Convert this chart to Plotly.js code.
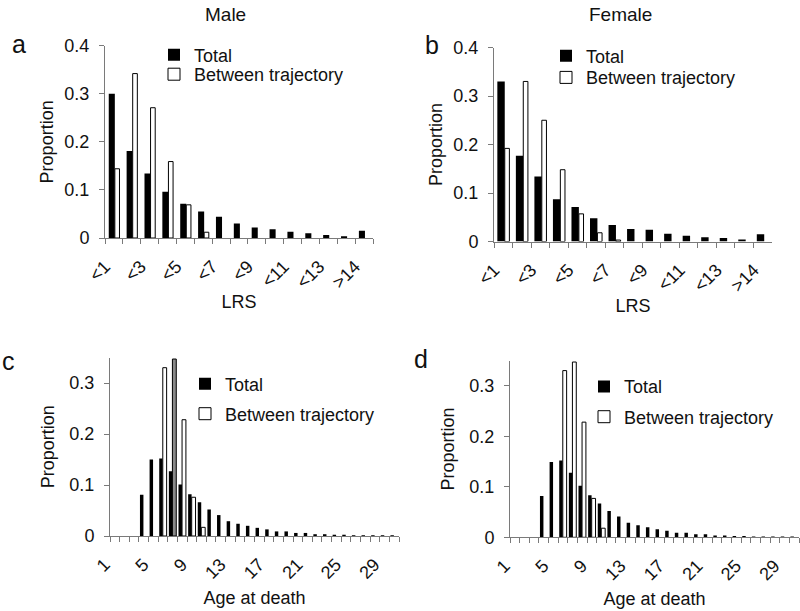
<!DOCTYPE html>
<html><head><meta charset="utf-8">
<script src="https://cdn.plot.ly/plotly-3.0.1.min.js"></script>
<style>html,body{margin:0;padding:0;background:#fff}#chart{width:800px;height:611px}</style>
</head><body><div id="chart"></div>
<script>
// ---------- data ----------
const lrsCategories = ['<1','<2','<3','<4','<5','<6','<7','<8','<9','<10','<11','<12','<13','<14','>14'];
const maleLrsTotal   = [0.300,0.181,0.134,0.096,0.071,0.055,0.044,0.030,0.022,0.018,0.013,0.010,0.006,0.0035,0.015];
const maleLrsBetween = [0.144,0.342,0.271,0.159,0.069,0.012,0,0,0,0,0,0,0,0,0];
const femaleLrsTotal   = [0.330,0.177,0.134,0.087,0.071,0.048,0.034,0.026,0.024,0.016,0.012,0.009,0.007,0.004,0.015];
const femaleLrsBetween = [0.192,0.330,0.250,0.148,0.057,0.018,0.003,0,0,0,0,0,0,0,0];

const ageCategories = ['1','2','3','4','5','6','7','8','9','10','11','12','13','14','15','16','17','18','19','20','21','22','23','24','25','26','27','28','29','30'];
const maleAgeTotal   = [0,0,0,0.081,0.150,0.152,0.127,0.101,0.082,0.066,0.052,0.041,0.029,0.024,0.020,0.016,0.013,0.009,0.009,0.006,0.006,0.0035,0.0035,0.0025,0.0025,0.0015,0.0015,0.0015,0.0015,0.0015];
const maleAgeBetween = [0,0,0,0,0,0.330,0.347,0.228,0.076,0.017,0,0,0,0,0,0,0,0,0,0,0,0,0,0,0,0,0,0,0,0];
const femaleAgeTotal   = [0,0,0,0.082,0.149,0.152,0.128,0.102,0.083,0.067,0.052,0.041,0.029,0.024,0.020,0.016,0.013,0.009,0.009,0.006,0.006,0.0035,0.0035,0.0025,0.0025,0.0015,0.0015,0.0015,0.0015,0.0015];
const femaleAgeBetween = [0,0,0,0,0,0.330,0.347,0.228,0.077,0.018,0,0,0,0,0,0,0,0,0,0,0,0,0,0,0,0,0,0,0,0];

const seriesNames = ['Total', 'Between trajectory'];
const panelLetters = ['a','b','c','d'];
const columnTitles = ['Male','Female'];
const lrsTitle = 'LRS';
const ageTitle = 'Age at death';
const yTitle = 'Proportion';

// ---------- layout helpers ----------
const W = 800, H = 611;
const px = v => v / W;
const py = v => 1 - v / H;
const FONT = 'Liberation Sans, Arial, Helvetica, sans-serif';
const AXC = '#7a7a7a';
const TXT = '#111';

const lrsTickText = lrsCategories.map((c, i) => i % 2 === 0 ? c : '');
const ageTickText = ageCategories.map((c, i) => i % 4 === 0 ? c : '');
// zero-height bars are not drawn (no outline stub on the axis)
const nz = arr => arr.map(v => v === 0 ? null : v);

function totalTrace(x, y, xa, ya, lg, off, w) {
  return {type:'bar', x, y:nz(y), xaxis:xa, yaxis:ya, name:seriesNames[0], legend:lg,
    offset:off, width:w, marker:{color:'#000', line:{width:0}}, hoverinfo:'x+y'};
}
function betweenTrace(x, y, xa, ya, lg, off, w, fill) {
  return {type:'bar', x, y:nz(y), xaxis:xa, yaxis:ya, name:seriesNames[1], legend:lg,
    offset:off, width:w, marker:{color:fill || '#fff', line:{color:'#000', width:1}}, hoverinfo:'x+y'};
}
const cBetweenFill = ageCategories.map(a => a === '7' ? '#8a8a8a' : '#fff');

const data = [
  totalTrace(lrsCategories, maleLrsTotal, 'x', 'y', 'legend', -0.29, 0.34),
  betweenTrace(lrsCategories, maleLrsBetween, 'x', 'y', 'legend2', 0.05, 0.26),
  totalTrace(lrsCategories, femaleLrsTotal, 'x2', 'y2', 'legend3', -0.32, 0.40),
  betweenTrace(lrsCategories, femaleLrsBetween, 'x2', 'y2', 'legend4', 0.08, 0.25),
  totalTrace(ageCategories, maleAgeTotal, 'x3', 'y3', 'legend5', -0.39, 0.36),
  betweenTrace(ageCategories, maleAgeBetween, 'x3', 'y3', 'legend6', -0.02, 0.40, cBetweenFill),
  totalTrace(ageCategories, femaleAgeTotal, 'x4', 'y4', 'legend7', -0.39, 0.36),
  betweenTrace(ageCategories, femaleAgeBetween, 'x4', 'y4', 'legend8', -0.02, 0.40),
];

function xAxis(dom, yAnchor, cats, tickText, title, shift, standoff) {
  return {
    domain:[px(dom[0]), px(dom[1])], anchor:yAnchor, type:'category',
    categoryorder:'array', categoryarray:cats, range:[-0.5, cats.length - 0.5],
    tickmode:'array', tickvals:cats, ticktext:tickText, tickson:'boundaries',
    ticks:'outside', ticklen:5, tickcolor:AXC, tickwidth:1,
    showline:true, linecolor:AXC, linewidth:1, showgrid:false, zeroline:false,
    tickangle:-45, ticklabelstandoff:10, ticklabelshift:shift,
    tickfont:{size:18, color:TXT, family:FONT},
    title:{text:title, font:{size:18, color:TXT, family:FONT}, standoff:standoff},
    fixedrange:true
  };
}
function yAxis(y0, yTop, xAnchor, maxV, standoff) {
  return {
    domain:[py(y0), py(yTop)], anchor:xAnchor, range:[0, maxV],
    tickmode:'linear', tick0:0, dtick:0.1,
    ticks:'outside', ticklen:5, tickcolor:AXC, tickwidth:1,
    showline:true, linecolor:AXC, linewidth:1, showgrid:false, zeroline:false,
    ticklabelstandoff:6,
    tickfont:{size:18, color:TXT, family:FONT},
    title:{text:yTitle, font:{size:18, color:TXT, family:FONT}, standoff:standoff},
    fixedrange:true
  };
}
function legendAt(textX, rowY) {
  return {x:px(textX - 36), y:py(rowY), xanchor:'left', yanchor:'middle',
    bgcolor:'rgba(0,0,0,0)', borderwidth:0, font:{size:18, color:TXT, family:FONT},
    itemclick:false, itemdoubleclick:false};
}
function label(text, x, y, size) {
  return {text, x:px(x), y:py(y), xref:'paper', yref:'paper', xanchor:'center', yanchor:'middle',
    showarrow:false, font:{size, color:TXT, family:FONT}};
}

const layout = {
  width:W, height:H, margin:{l:0, r:0, t:0, b:0},
  paper_bgcolor:'#fff', plot_bgcolor:'#fff',
  font:{family:FONT, color:TXT},
  barmode:'overlay', showlegend:true,
  xaxis:  xAxis([105,373], 'y',  lrsCategories, lrsTickText, lrsTitle, -9, 4),
  yaxis:  yAxis(238, 45.7, 'x', 0.4, 6),
  xaxis2: xAxis([494,772], 'y2', lrsCategories, lrsTickText, lrsTitle, -9, 4),
  yaxis2: yAxis(241.5, 47.5, 'x2', 0.4, 6),
  xaxis3: xAxis([110,399], 'y3', ageCategories, ageTickText, ageTitle, -10, 9),
  yaxis3: yAxis(536, 357.5, 'x3', 0.35, 10),
  xaxis4: xAxis([510,799], 'y4', ageCategories, ageTickText, ageTitle, -10, 9),
  yaxis4: yAxis(537.3, 360.5, 'x4', 0.35, 10),
  legend:  legendAt(190, 55),
  legend2: legendAt(190, 74.5),
  legend3: legendAt(582, 56),
  legend4: legendAt(582, 77.7),
  legend5: legendAt(221, 384),
  legend6: legendAt(221, 414),
  legend7: legendAt(620, 386.7),
  legend8: legendAt(620, 417),
  annotations: [
    label(columnTitles[0], 226, 14, 19),
    label(columnTitles[1], 620, 14, 19),
    label(panelLetters[0], 19, 44, 25),
    label(panelLetters[1], 432, 45, 25),
    label(panelLetters[2], 8, 361, 25),
    label(panelLetters[3], 421, 359, 25)
  ]
};

Plotly.newPlot('chart', data, layout, {displayModeBar:false, staticPlot:true});
</script>
</body></html>
